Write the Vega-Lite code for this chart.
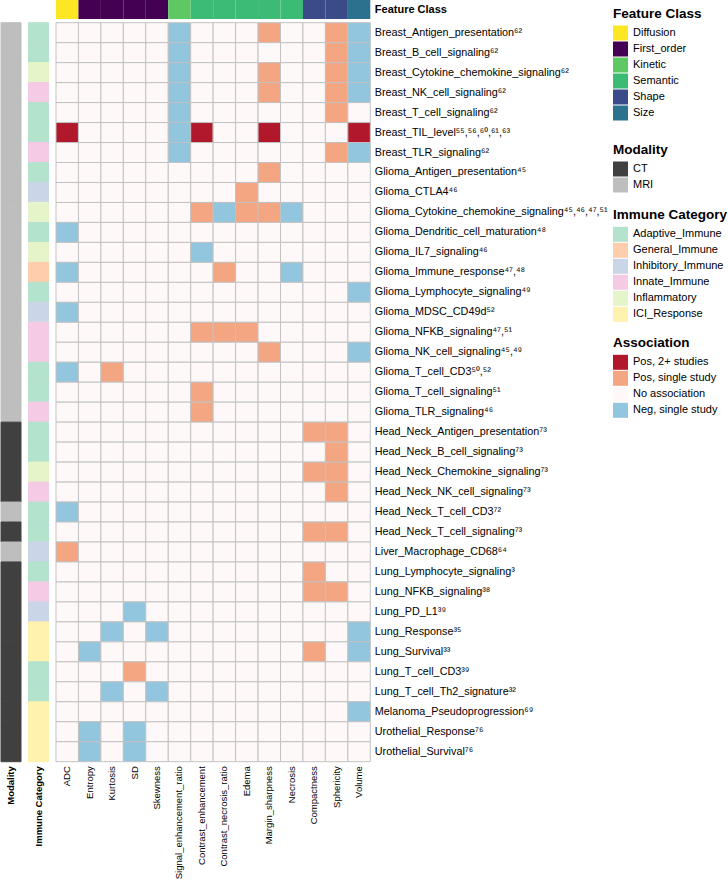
{
"$schema": "https://vega.github.io/schema/vega-lite/v6.json",
"padding": 0,
"background": "white",
"config": {
  "view": {"stroke": null},
  "font": "Liberation Sans",
  "axis": {"ticks": false, "domain": false, "grid": false, "labelColor": "#000000", "labelFont": "Liberation Sans, Noto Sans"},
  "legend": {"titleFontSize": 13.5, "titleFontWeight": "bold", "titleColor": "#000000", "titleFont": "Liberation Sans", "labelFont": "Liberation Sans", "labelFontSize": 11, "labelColor": "#000000", "symbolType": "square", "symbolSize": 225, "symbolStrokeWidth": 0, "symbolOpacity": 1, "rowPadding": 1, "titlePadding": 5, "labelOffset": 5}
},
"datasets": {
  "rows": [
    {"id":1,"label":"Breast_Antigen_presentation⁶²","modality":"MRI","immune":"Adaptive_Immune"},
    {"id":2,"label":"Breast_B_cell_signaling⁶²","modality":"MRI","immune":"Adaptive_Immune"},
    {"id":3,"label":"Breast_Cytokine_chemokine_signaling⁶²","modality":"MRI","immune":"Inflammatory"},
    {"id":4,"label":"Breast_NK_cell_signaling⁶²","modality":"MRI","immune":"Innate_Immune"},
    {"id":5,"label":"Breast_T_cell_signaling⁶²","modality":"MRI","immune":"Adaptive_Immune"},
    {"id":6,"label":"Breast_TIL_level⁵⁵,⁵⁶,⁶⁰,⁶¹,⁶³","modality":"MRI","immune":"Adaptive_Immune"},
    {"id":7,"label":"Breast_TLR_signaling⁶²","modality":"MRI","immune":"Innate_Immune"},
    {"id":8,"label":"Glioma_Antigen_presentation⁴⁵","modality":"MRI","immune":"Adaptive_Immune"},
    {"id":9,"label":"Glioma_CTLA4⁴⁶","modality":"MRI","immune":"Inhibitory_Immune"},
    {"id":10,"label":"Glioma_Cytokine_chemokine_signaling⁴⁵,⁴⁶,⁴⁷,⁵¹","modality":"MRI","immune":"Inflammatory"},
    {"id":11,"label":"Glioma_Dendritic_cell_maturation⁴⁸","modality":"MRI","immune":"Adaptive_Immune"},
    {"id":12,"label":"Glioma_IL7_signaling⁴⁶","modality":"MRI","immune":"Inflammatory"},
    {"id":13,"label":"Glioma_Immune_response⁴⁷,⁴⁸","modality":"MRI","immune":"General_Immune"},
    {"id":14,"label":"Glioma_Lymphocyte_signaling⁴⁹","modality":"MRI","immune":"Adaptive_Immune"},
    {"id":15,"label":"Glioma_MDSC_CD49d⁵²","modality":"MRI","immune":"Inhibitory_Immune"},
    {"id":16,"label":"Glioma_NFKB_signaling⁴⁷,⁵¹","modality":"MRI","immune":"Innate_Immune"},
    {"id":17,"label":"Glioma_NK_cell_signaling⁴⁵,⁴⁹","modality":"MRI","immune":"Innate_Immune"},
    {"id":18,"label":"Glioma_T_cell_CD3⁵⁰,⁵²","modality":"MRI","immune":"Adaptive_Immune"},
    {"id":19,"label":"Glioma_T_cell_signaling⁵¹","modality":"MRI","immune":"Adaptive_Immune"},
    {"id":20,"label":"Glioma_TLR_signaling⁴⁶","modality":"MRI","immune":"Innate_Immune"},
    {"id":21,"label":"Head_Neck_Antigen_presentation⁷³","modality":"CT","immune":"Adaptive_Immune"},
    {"id":22,"label":"Head_Neck_B_cell_signaling⁷³","modality":"CT","immune":"Adaptive_Immune"},
    {"id":23,"label":"Head_Neck_Chemokine_signaling⁷³","modality":"CT","immune":"Inflammatory"},
    {"id":24,"label":"Head_Neck_NK_cell_signaling⁷³","modality":"CT","immune":"Innate_Immune"},
    {"id":25,"label":"Head_Neck_T_cell_CD3⁷²","modality":"MRI","immune":"Adaptive_Immune"},
    {"id":26,"label":"Head_Neck_T_cell_signaling⁷³","modality":"CT","immune":"Adaptive_Immune"},
    {"id":27,"label":"Liver_Macrophage_CD68⁶⁴","modality":"MRI","immune":"Inhibitory_Immune"},
    {"id":28,"label":"Lung_Lymphocyte_signaling³","modality":"CT","immune":"Adaptive_Immune"},
    {"id":29,"label":"Lung_NFKB_signaling³⁸","modality":"CT","immune":"Innate_Immune"},
    {"id":30,"label":"Lung_PD_L1³⁹","modality":"CT","immune":"Inhibitory_Immune"},
    {"id":31,"label":"Lung_Response³⁵","modality":"CT","immune":"ICI_Response"},
    {"id":32,"label":"Lung_Survival³³","modality":"CT","immune":"ICI_Response"},
    {"id":33,"label":"Lung_T_cell_CD3³⁹","modality":"CT","immune":"Adaptive_Immune"},
    {"id":34,"label":"Lung_T_cell_Th2_signature³²","modality":"CT","immune":"Adaptive_Immune"},
    {"id":35,"label":"Melanoma_Pseudoprogression⁶⁹","modality":"CT","immune":"ICI_Response"},
    {"id":36,"label":"Urothelial_Response⁷⁶","modality":"CT","immune":"ICI_Response"},
    {"id":37,"label":"Urothelial_Survival⁷⁶","modality":"CT","immune":"ICI_Response"}
  ],
  "fc": [
    {"c":1,"f":"ADC","cls":"Diffusion"},
    {"c":2,"f":"Entropy","cls":"First_order"},
    {"c":3,"f":"Kurtosis","cls":"First_order"},
    {"c":4,"f":"SD","cls":"First_order"},
    {"c":5,"f":"Skewness","cls":"First_order"},
    {"c":6,"f":"Signal_enhancement_ratio","cls":"Kinetic"},
    {"c":7,"f":"Contrast_enhancement","cls":"Semantic"},
    {"c":8,"f":"Contrast_necrosis_ratio","cls":"Semantic"},
    {"c":9,"f":"Edema","cls":"Semantic"},
    {"c":10,"f":"Margin_sharpness","cls":"Semantic"},
    {"c":11,"f":"Necrosis","cls":"Semantic"},
    {"c":12,"f":"Compactness","cls":"Shape"},
    {"c":13,"f":"Sphericity","cls":"Shape"},
    {"c":14,"f":"Volume","cls":"Size"}
  ],
  "cells": [
    {"id":1,"c":1,"a":"No association"},{"id":1,"c":2,"a":"No association"},{"id":1,"c":3,"a":"No association"},{"id":1,"c":4,"a":"No association"},{"id":1,"c":5,"a":"No association"},{"id":1,"c":6,"a":"Neg, single study"},{"id":1,"c":7,"a":"No association"},{"id":1,"c":8,"a":"No association"},{"id":1,"c":9,"a":"No association"},{"id":1,"c":10,"a":"Pos, single study"},{"id":1,"c":11,"a":"No association"},{"id":1,"c":12,"a":"No association"},{"id":1,"c":13,"a":"Pos, single study"},{"id":1,"c":14,"a":"Neg, single study"},
    {"id":2,"c":1,"a":"No association"},{"id":2,"c":2,"a":"No association"},{"id":2,"c":3,"a":"No association"},{"id":2,"c":4,"a":"No association"},{"id":2,"c":5,"a":"No association"},{"id":2,"c":6,"a":"Neg, single study"},{"id":2,"c":7,"a":"No association"},{"id":2,"c":8,"a":"No association"},{"id":2,"c":9,"a":"No association"},{"id":2,"c":10,"a":"No association"},{"id":2,"c":11,"a":"No association"},{"id":2,"c":12,"a":"No association"},{"id":2,"c":13,"a":"Pos, single study"},{"id":2,"c":14,"a":"Neg, single study"},
    {"id":3,"c":1,"a":"No association"},{"id":3,"c":2,"a":"No association"},{"id":3,"c":3,"a":"No association"},{"id":3,"c":4,"a":"No association"},{"id":3,"c":5,"a":"No association"},{"id":3,"c":6,"a":"Neg, single study"},{"id":3,"c":7,"a":"No association"},{"id":3,"c":8,"a":"No association"},{"id":3,"c":9,"a":"No association"},{"id":3,"c":10,"a":"Pos, single study"},{"id":3,"c":11,"a":"No association"},{"id":3,"c":12,"a":"No association"},{"id":3,"c":13,"a":"Pos, single study"},{"id":3,"c":14,"a":"Neg, single study"},
    {"id":4,"c":1,"a":"No association"},{"id":4,"c":2,"a":"No association"},{"id":4,"c":3,"a":"No association"},{"id":4,"c":4,"a":"No association"},{"id":4,"c":5,"a":"No association"},{"id":4,"c":6,"a":"Neg, single study"},{"id":4,"c":7,"a":"No association"},{"id":4,"c":8,"a":"No association"},{"id":4,"c":9,"a":"No association"},{"id":4,"c":10,"a":"Pos, single study"},{"id":4,"c":11,"a":"No association"},{"id":4,"c":12,"a":"No association"},{"id":4,"c":13,"a":"Pos, single study"},{"id":4,"c":14,"a":"Neg, single study"},
    {"id":5,"c":1,"a":"No association"},{"id":5,"c":2,"a":"No association"},{"id":5,"c":3,"a":"No association"},{"id":5,"c":4,"a":"No association"},{"id":5,"c":5,"a":"No association"},{"id":5,"c":6,"a":"Neg, single study"},{"id":5,"c":7,"a":"No association"},{"id":5,"c":8,"a":"No association"},{"id":5,"c":9,"a":"No association"},{"id":5,"c":10,"a":"No association"},{"id":5,"c":11,"a":"No association"},{"id":5,"c":12,"a":"No association"},{"id":5,"c":13,"a":"Pos, single study"},{"id":5,"c":14,"a":"No association"},
    {"id":6,"c":1,"a":"Pos, 2+ studies"},{"id":6,"c":2,"a":"No association"},{"id":6,"c":3,"a":"No association"},{"id":6,"c":4,"a":"No association"},{"id":6,"c":5,"a":"No association"},{"id":6,"c":6,"a":"Neg, single study"},{"id":6,"c":7,"a":"Pos, 2+ studies"},{"id":6,"c":8,"a":"No association"},{"id":6,"c":9,"a":"No association"},{"id":6,"c":10,"a":"Pos, 2+ studies"},{"id":6,"c":11,"a":"No association"},{"id":6,"c":12,"a":"No association"},{"id":6,"c":13,"a":"No association"},{"id":6,"c":14,"a":"Pos, 2+ studies"},
    {"id":7,"c":1,"a":"No association"},{"id":7,"c":2,"a":"No association"},{"id":7,"c":3,"a":"No association"},{"id":7,"c":4,"a":"No association"},{"id":7,"c":5,"a":"No association"},{"id":7,"c":6,"a":"Neg, single study"},{"id":7,"c":7,"a":"No association"},{"id":7,"c":8,"a":"No association"},{"id":7,"c":9,"a":"No association"},{"id":7,"c":10,"a":"No association"},{"id":7,"c":11,"a":"No association"},{"id":7,"c":12,"a":"No association"},{"id":7,"c":13,"a":"Pos, single study"},{"id":7,"c":14,"a":"Neg, single study"},
    {"id":8,"c":1,"a":"No association"},{"id":8,"c":2,"a":"No association"},{"id":8,"c":3,"a":"No association"},{"id":8,"c":4,"a":"No association"},{"id":8,"c":5,"a":"No association"},{"id":8,"c":6,"a":"No association"},{"id":8,"c":7,"a":"No association"},{"id":8,"c":8,"a":"No association"},{"id":8,"c":9,"a":"No association"},{"id":8,"c":10,"a":"Pos, single study"},{"id":8,"c":11,"a":"No association"},{"id":8,"c":12,"a":"No association"},{"id":8,"c":13,"a":"No association"},{"id":8,"c":14,"a":"No association"},
    {"id":9,"c":1,"a":"No association"},{"id":9,"c":2,"a":"No association"},{"id":9,"c":3,"a":"No association"},{"id":9,"c":4,"a":"No association"},{"id":9,"c":5,"a":"No association"},{"id":9,"c":6,"a":"No association"},{"id":9,"c":7,"a":"No association"},{"id":9,"c":8,"a":"No association"},{"id":9,"c":9,"a":"Pos, single study"},{"id":9,"c":10,"a":"No association"},{"id":9,"c":11,"a":"No association"},{"id":9,"c":12,"a":"No association"},{"id":9,"c":13,"a":"No association"},{"id":9,"c":14,"a":"No association"},
    {"id":10,"c":1,"a":"No association"},{"id":10,"c":2,"a":"No association"},{"id":10,"c":3,"a":"No association"},{"id":10,"c":4,"a":"No association"},{"id":10,"c":5,"a":"No association"},{"id":10,"c":6,"a":"No association"},{"id":10,"c":7,"a":"Pos, single study"},{"id":10,"c":8,"a":"Neg, single study"},{"id":10,"c":9,"a":"Pos, single study"},{"id":10,"c":10,"a":"Pos, single study"},{"id":10,"c":11,"a":"Neg, single study"},{"id":10,"c":12,"a":"No association"},{"id":10,"c":13,"a":"No association"},{"id":10,"c":14,"a":"No association"},
    {"id":11,"c":1,"a":"Neg, single study"},{"id":11,"c":2,"a":"No association"},{"id":11,"c":3,"a":"No association"},{"id":11,"c":4,"a":"No association"},{"id":11,"c":5,"a":"No association"},{"id":11,"c":6,"a":"No association"},{"id":11,"c":7,"a":"No association"},{"id":11,"c":8,"a":"No association"},{"id":11,"c":9,"a":"No association"},{"id":11,"c":10,"a":"No association"},{"id":11,"c":11,"a":"No association"},{"id":11,"c":12,"a":"No association"},{"id":11,"c":13,"a":"No association"},{"id":11,"c":14,"a":"No association"},
    {"id":12,"c":1,"a":"No association"},{"id":12,"c":2,"a":"No association"},{"id":12,"c":3,"a":"No association"},{"id":12,"c":4,"a":"No association"},{"id":12,"c":5,"a":"No association"},{"id":12,"c":6,"a":"No association"},{"id":12,"c":7,"a":"Neg, single study"},{"id":12,"c":8,"a":"No association"},{"id":12,"c":9,"a":"No association"},{"id":12,"c":10,"a":"No association"},{"id":12,"c":11,"a":"No association"},{"id":12,"c":12,"a":"No association"},{"id":12,"c":13,"a":"No association"},{"id":12,"c":14,"a":"No association"},
    {"id":13,"c":1,"a":"Neg, single study"},{"id":13,"c":2,"a":"No association"},{"id":13,"c":3,"a":"No association"},{"id":13,"c":4,"a":"No association"},{"id":13,"c":5,"a":"No association"},{"id":13,"c":6,"a":"No association"},{"id":13,"c":7,"a":"No association"},{"id":13,"c":8,"a":"Pos, single study"},{"id":13,"c":9,"a":"No association"},{"id":13,"c":10,"a":"No association"},{"id":13,"c":11,"a":"Neg, single study"},{"id":13,"c":12,"a":"No association"},{"id":13,"c":13,"a":"No association"},{"id":13,"c":14,"a":"No association"},
    {"id":14,"c":1,"a":"No association"},{"id":14,"c":2,"a":"No association"},{"id":14,"c":3,"a":"No association"},{"id":14,"c":4,"a":"No association"},{"id":14,"c":5,"a":"No association"},{"id":14,"c":6,"a":"No association"},{"id":14,"c":7,"a":"No association"},{"id":14,"c":8,"a":"No association"},{"id":14,"c":9,"a":"No association"},{"id":14,"c":10,"a":"No association"},{"id":14,"c":11,"a":"No association"},{"id":14,"c":12,"a":"No association"},{"id":14,"c":13,"a":"No association"},{"id":14,"c":14,"a":"Neg, single study"},
    {"id":15,"c":1,"a":"Neg, single study"},{"id":15,"c":2,"a":"No association"},{"id":15,"c":3,"a":"No association"},{"id":15,"c":4,"a":"No association"},{"id":15,"c":5,"a":"No association"},{"id":15,"c":6,"a":"No association"},{"id":15,"c":7,"a":"No association"},{"id":15,"c":8,"a":"No association"},{"id":15,"c":9,"a":"No association"},{"id":15,"c":10,"a":"No association"},{"id":15,"c":11,"a":"No association"},{"id":15,"c":12,"a":"No association"},{"id":15,"c":13,"a":"No association"},{"id":15,"c":14,"a":"No association"},
    {"id":16,"c":1,"a":"No association"},{"id":16,"c":2,"a":"No association"},{"id":16,"c":3,"a":"No association"},{"id":16,"c":4,"a":"No association"},{"id":16,"c":5,"a":"No association"},{"id":16,"c":6,"a":"No association"},{"id":16,"c":7,"a":"Pos, single study"},{"id":16,"c":8,"a":"Pos, single study"},{"id":16,"c":9,"a":"Pos, single study"},{"id":16,"c":10,"a":"No association"},{"id":16,"c":11,"a":"No association"},{"id":16,"c":12,"a":"No association"},{"id":16,"c":13,"a":"No association"},{"id":16,"c":14,"a":"No association"},
    {"id":17,"c":1,"a":"No association"},{"id":17,"c":2,"a":"No association"},{"id":17,"c":3,"a":"No association"},{"id":17,"c":4,"a":"No association"},{"id":17,"c":5,"a":"No association"},{"id":17,"c":6,"a":"No association"},{"id":17,"c":7,"a":"No association"},{"id":17,"c":8,"a":"No association"},{"id":17,"c":9,"a":"No association"},{"id":17,"c":10,"a":"Pos, single study"},{"id":17,"c":11,"a":"No association"},{"id":17,"c":12,"a":"No association"},{"id":17,"c":13,"a":"No association"},{"id":17,"c":14,"a":"Neg, single study"},
    {"id":18,"c":1,"a":"Neg, single study"},{"id":18,"c":2,"a":"No association"},{"id":18,"c":3,"a":"Pos, single study"},{"id":18,"c":4,"a":"No association"},{"id":18,"c":5,"a":"No association"},{"id":18,"c":6,"a":"No association"},{"id":18,"c":7,"a":"No association"},{"id":18,"c":8,"a":"No association"},{"id":18,"c":9,"a":"No association"},{"id":18,"c":10,"a":"No association"},{"id":18,"c":11,"a":"No association"},{"id":18,"c":12,"a":"No association"},{"id":18,"c":13,"a":"No association"},{"id":18,"c":14,"a":"No association"},
    {"id":19,"c":1,"a":"No association"},{"id":19,"c":2,"a":"No association"},{"id":19,"c":3,"a":"No association"},{"id":19,"c":4,"a":"No association"},{"id":19,"c":5,"a":"No association"},{"id":19,"c":6,"a":"No association"},{"id":19,"c":7,"a":"Pos, single study"},{"id":19,"c":8,"a":"No association"},{"id":19,"c":9,"a":"No association"},{"id":19,"c":10,"a":"No association"},{"id":19,"c":11,"a":"No association"},{"id":19,"c":12,"a":"No association"},{"id":19,"c":13,"a":"No association"},{"id":19,"c":14,"a":"No association"},
    {"id":20,"c":1,"a":"No association"},{"id":20,"c":2,"a":"No association"},{"id":20,"c":3,"a":"No association"},{"id":20,"c":4,"a":"No association"},{"id":20,"c":5,"a":"No association"},{"id":20,"c":6,"a":"No association"},{"id":20,"c":7,"a":"Pos, single study"},{"id":20,"c":8,"a":"No association"},{"id":20,"c":9,"a":"No association"},{"id":20,"c":10,"a":"No association"},{"id":20,"c":11,"a":"No association"},{"id":20,"c":12,"a":"No association"},{"id":20,"c":13,"a":"No association"},{"id":20,"c":14,"a":"No association"},
    {"id":21,"c":1,"a":"No association"},{"id":21,"c":2,"a":"No association"},{"id":21,"c":3,"a":"No association"},{"id":21,"c":4,"a":"No association"},{"id":21,"c":5,"a":"No association"},{"id":21,"c":6,"a":"No association"},{"id":21,"c":7,"a":"No association"},{"id":21,"c":8,"a":"No association"},{"id":21,"c":9,"a":"No association"},{"id":21,"c":10,"a":"No association"},{"id":21,"c":11,"a":"No association"},{"id":21,"c":12,"a":"Pos, single study"},{"id":21,"c":13,"a":"Pos, single study"},{"id":21,"c":14,"a":"No association"},
    {"id":22,"c":1,"a":"No association"},{"id":22,"c":2,"a":"No association"},{"id":22,"c":3,"a":"No association"},{"id":22,"c":4,"a":"No association"},{"id":22,"c":5,"a":"No association"},{"id":22,"c":6,"a":"No association"},{"id":22,"c":7,"a":"No association"},{"id":22,"c":8,"a":"No association"},{"id":22,"c":9,"a":"No association"},{"id":22,"c":10,"a":"No association"},{"id":22,"c":11,"a":"No association"},{"id":22,"c":12,"a":"No association"},{"id":22,"c":13,"a":"Pos, single study"},{"id":22,"c":14,"a":"No association"},
    {"id":23,"c":1,"a":"No association"},{"id":23,"c":2,"a":"No association"},{"id":23,"c":3,"a":"No association"},{"id":23,"c":4,"a":"No association"},{"id":23,"c":5,"a":"No association"},{"id":23,"c":6,"a":"No association"},{"id":23,"c":7,"a":"No association"},{"id":23,"c":8,"a":"No association"},{"id":23,"c":9,"a":"No association"},{"id":23,"c":10,"a":"No association"},{"id":23,"c":11,"a":"No association"},{"id":23,"c":12,"a":"Pos, single study"},{"id":23,"c":13,"a":"Pos, single study"},{"id":23,"c":14,"a":"No association"},
    {"id":24,"c":1,"a":"No association"},{"id":24,"c":2,"a":"No association"},{"id":24,"c":3,"a":"No association"},{"id":24,"c":4,"a":"No association"},{"id":24,"c":5,"a":"No association"},{"id":24,"c":6,"a":"No association"},{"id":24,"c":7,"a":"No association"},{"id":24,"c":8,"a":"No association"},{"id":24,"c":9,"a":"No association"},{"id":24,"c":10,"a":"No association"},{"id":24,"c":11,"a":"No association"},{"id":24,"c":12,"a":"No association"},{"id":24,"c":13,"a":"Pos, single study"},{"id":24,"c":14,"a":"No association"},
    {"id":25,"c":1,"a":"Neg, single study"},{"id":25,"c":2,"a":"No association"},{"id":25,"c":3,"a":"No association"},{"id":25,"c":4,"a":"No association"},{"id":25,"c":5,"a":"No association"},{"id":25,"c":6,"a":"No association"},{"id":25,"c":7,"a":"No association"},{"id":25,"c":8,"a":"No association"},{"id":25,"c":9,"a":"No association"},{"id":25,"c":10,"a":"No association"},{"id":25,"c":11,"a":"No association"},{"id":25,"c":12,"a":"No association"},{"id":25,"c":13,"a":"No association"},{"id":25,"c":14,"a":"No association"},
    {"id":26,"c":1,"a":"No association"},{"id":26,"c":2,"a":"No association"},{"id":26,"c":3,"a":"No association"},{"id":26,"c":4,"a":"No association"},{"id":26,"c":5,"a":"No association"},{"id":26,"c":6,"a":"No association"},{"id":26,"c":7,"a":"No association"},{"id":26,"c":8,"a":"No association"},{"id":26,"c":9,"a":"No association"},{"id":26,"c":10,"a":"No association"},{"id":26,"c":11,"a":"No association"},{"id":26,"c":12,"a":"Pos, single study"},{"id":26,"c":13,"a":"Pos, single study"},{"id":26,"c":14,"a":"No association"},
    {"id":27,"c":1,"a":"Pos, single study"},{"id":27,"c":2,"a":"No association"},{"id":27,"c":3,"a":"No association"},{"id":27,"c":4,"a":"No association"},{"id":27,"c":5,"a":"No association"},{"id":27,"c":6,"a":"No association"},{"id":27,"c":7,"a":"No association"},{"id":27,"c":8,"a":"No association"},{"id":27,"c":9,"a":"No association"},{"id":27,"c":10,"a":"No association"},{"id":27,"c":11,"a":"No association"},{"id":27,"c":12,"a":"No association"},{"id":27,"c":13,"a":"No association"},{"id":27,"c":14,"a":"No association"},
    {"id":28,"c":1,"a":"No association"},{"id":28,"c":2,"a":"No association"},{"id":28,"c":3,"a":"No association"},{"id":28,"c":4,"a":"No association"},{"id":28,"c":5,"a":"No association"},{"id":28,"c":6,"a":"No association"},{"id":28,"c":7,"a":"No association"},{"id":28,"c":8,"a":"No association"},{"id":28,"c":9,"a":"No association"},{"id":28,"c":10,"a":"No association"},{"id":28,"c":11,"a":"No association"},{"id":28,"c":12,"a":"Pos, single study"},{"id":28,"c":13,"a":"No association"},{"id":28,"c":14,"a":"No association"},
    {"id":29,"c":1,"a":"No association"},{"id":29,"c":2,"a":"No association"},{"id":29,"c":3,"a":"No association"},{"id":29,"c":4,"a":"No association"},{"id":29,"c":5,"a":"No association"},{"id":29,"c":6,"a":"No association"},{"id":29,"c":7,"a":"No association"},{"id":29,"c":8,"a":"No association"},{"id":29,"c":9,"a":"No association"},{"id":29,"c":10,"a":"No association"},{"id":29,"c":11,"a":"No association"},{"id":29,"c":12,"a":"Pos, single study"},{"id":29,"c":13,"a":"Pos, single study"},{"id":29,"c":14,"a":"No association"},
    {"id":30,"c":1,"a":"No association"},{"id":30,"c":2,"a":"No association"},{"id":30,"c":3,"a":"No association"},{"id":30,"c":4,"a":"Neg, single study"},{"id":30,"c":5,"a":"No association"},{"id":30,"c":6,"a":"No association"},{"id":30,"c":7,"a":"No association"},{"id":30,"c":8,"a":"No association"},{"id":30,"c":9,"a":"No association"},{"id":30,"c":10,"a":"No association"},{"id":30,"c":11,"a":"No association"},{"id":30,"c":12,"a":"No association"},{"id":30,"c":13,"a":"No association"},{"id":30,"c":14,"a":"No association"},
    {"id":31,"c":1,"a":"No association"},{"id":31,"c":2,"a":"No association"},{"id":31,"c":3,"a":"Neg, single study"},{"id":31,"c":4,"a":"No association"},{"id":31,"c":5,"a":"Neg, single study"},{"id":31,"c":6,"a":"No association"},{"id":31,"c":7,"a":"No association"},{"id":31,"c":8,"a":"No association"},{"id":31,"c":9,"a":"No association"},{"id":31,"c":10,"a":"No association"},{"id":31,"c":11,"a":"No association"},{"id":31,"c":12,"a":"No association"},{"id":31,"c":13,"a":"No association"},{"id":31,"c":14,"a":"Neg, single study"},
    {"id":32,"c":1,"a":"No association"},{"id":32,"c":2,"a":"Neg, single study"},{"id":32,"c":3,"a":"No association"},{"id":32,"c":4,"a":"No association"},{"id":32,"c":5,"a":"No association"},{"id":32,"c":6,"a":"No association"},{"id":32,"c":7,"a":"No association"},{"id":32,"c":8,"a":"No association"},{"id":32,"c":9,"a":"No association"},{"id":32,"c":10,"a":"No association"},{"id":32,"c":11,"a":"No association"},{"id":32,"c":12,"a":"Pos, single study"},{"id":32,"c":13,"a":"No association"},{"id":32,"c":14,"a":"Neg, single study"},
    {"id":33,"c":1,"a":"No association"},{"id":33,"c":2,"a":"No association"},{"id":33,"c":3,"a":"No association"},{"id":33,"c":4,"a":"Pos, single study"},{"id":33,"c":5,"a":"No association"},{"id":33,"c":6,"a":"No association"},{"id":33,"c":7,"a":"No association"},{"id":33,"c":8,"a":"No association"},{"id":33,"c":9,"a":"No association"},{"id":33,"c":10,"a":"No association"},{"id":33,"c":11,"a":"No association"},{"id":33,"c":12,"a":"No association"},{"id":33,"c":13,"a":"No association"},{"id":33,"c":14,"a":"No association"},
    {"id":34,"c":1,"a":"No association"},{"id":34,"c":2,"a":"No association"},{"id":34,"c":3,"a":"Neg, single study"},{"id":34,"c":4,"a":"No association"},{"id":34,"c":5,"a":"Neg, single study"},{"id":34,"c":6,"a":"No association"},{"id":34,"c":7,"a":"No association"},{"id":34,"c":8,"a":"No association"},{"id":34,"c":9,"a":"No association"},{"id":34,"c":10,"a":"No association"},{"id":34,"c":11,"a":"No association"},{"id":34,"c":12,"a":"No association"},{"id":34,"c":13,"a":"No association"},{"id":34,"c":14,"a":"No association"},
    {"id":35,"c":1,"a":"No association"},{"id":35,"c":2,"a":"No association"},{"id":35,"c":3,"a":"No association"},{"id":35,"c":4,"a":"No association"},{"id":35,"c":5,"a":"No association"},{"id":35,"c":6,"a":"No association"},{"id":35,"c":7,"a":"No association"},{"id":35,"c":8,"a":"No association"},{"id":35,"c":9,"a":"No association"},{"id":35,"c":10,"a":"No association"},{"id":35,"c":11,"a":"No association"},{"id":35,"c":12,"a":"No association"},{"id":35,"c":13,"a":"No association"},{"id":35,"c":14,"a":"Neg, single study"},
    {"id":36,"c":1,"a":"No association"},{"id":36,"c":2,"a":"Neg, single study"},{"id":36,"c":3,"a":"No association"},{"id":36,"c":4,"a":"Neg, single study"},{"id":36,"c":5,"a":"No association"},{"id":36,"c":6,"a":"No association"},{"id":36,"c":7,"a":"No association"},{"id":36,"c":8,"a":"No association"},{"id":36,"c":9,"a":"No association"},{"id":36,"c":10,"a":"No association"},{"id":36,"c":11,"a":"No association"},{"id":36,"c":12,"a":"No association"},{"id":36,"c":13,"a":"No association"},{"id":36,"c":14,"a":"No association"},
    {"id":37,"c":1,"a":"No association"},{"id":37,"c":2,"a":"Neg, single study"},{"id":37,"c":3,"a":"No association"},{"id":37,"c":4,"a":"Neg, single study"},{"id":37,"c":5,"a":"No association"},{"id":37,"c":6,"a":"No association"},{"id":37,"c":7,"a":"No association"},{"id":37,"c":8,"a":"No association"},{"id":37,"c":9,"a":"No association"},{"id":37,"c":10,"a":"No association"},{"id":37,"c":11,"a":"No association"},{"id":37,"c":12,"a":"No association"},{"id":37,"c":13,"a":"No association"},{"id":37,"c":14,"a":"No association"}
  ]
},
"spacing": 7.5,
"bounds": "flush",
"resolve": {"scale": {"color": "independent", "stroke": "independent"}, "legend": {"color": "independent", "stroke": "independent"}},
"hconcat": [
  {
    "width": 20, "height": 761.7,
    "data": {"name": "rows"},
    "mark": {"type": "rect", "strokeWidth": 1},
    "encoding": {
      "x": {"datum": "Modality", "type": "nominal", "axis": {"orient": "bottom", "title": null, "labelAngle": -90, "labelFontWeight": "bold", "labelFontSize": 9.5, "labelPadding": 4, "labelLimit": 0}},
      "y": {"field": "label", "type": "nominal", "sort": {"field": "id", "op": "min"}, "scale": {"paddingInner": 0, "paddingOuter": 0.568, "align": 1}, "axis": null},
      "color": {"field": "modality", "type": "nominal",
        "scale": {"domain": ["CT", "MRI"], "range": ["#404040", "#BEBEBE"]},
        "legend": {"title": "Modality", "orient": "none", "legendX": 612, "legendY": 143}},
      "stroke": {"field": "modality", "type": "nominal", "scale": {"domain": ["CT", "MRI"], "range": ["#404040", "#BEBEBE"]}, "legend": null}
    }
  },
  {
    "width": 20, "height": 761.7,
    "data": {"name": "rows"},
    "mark": {"type": "rect", "strokeWidth": 1},
    "encoding": {
      "x": {"datum": "Immune Category", "type": "nominal", "axis": {"orient": "bottom", "title": null, "labelAngle": -90, "labelFontWeight": "bold", "labelFontSize": 9.5, "labelPadding": 4, "labelLimit": 0}},
      "y": {"field": "label", "type": "nominal", "sort": {"field": "id", "op": "min"}, "scale": {"paddingInner": 0, "paddingOuter": 0.568, "align": 1}, "axis": null},
      "color": {"field": "immune", "type": "nominal",
        "scale": {"domain": ["Adaptive_Immune", "General_Immune", "Inhibitory_Immune", "Innate_Immune", "Inflammatory", "ICI_Response"], "range": ["#B3E2CD", "#FDCDAC", "#CBD5E8", "#F4CAE4", "#E6F5C9", "#FFF2AE"]},
        "legend": {"title": "Immune Category", "orient": "none", "legendX": 584.5, "legendY": 208.3}},
      "stroke": {"field": "immune", "type": "nominal", "scale": {"domain": ["Adaptive_Immune", "General_Immune", "Inhibitory_Immune", "Innate_Immune", "Inflammatory", "ICI_Response"], "range": ["#B3E2CD", "#FDCDAC", "#CBD5E8", "#F4CAE4", "#E6F5C9", "#FFF2AE"]}, "legend": null}
    }
  },
  {
    "spacing": 3.7,
    "bounds": "flush",
    "resolve": {"scale": {"color": "independent"}, "legend": {"color": "independent"}},
    "vconcat": [
      {
        "width": 314.3, "height": 19,
        "data": {"name": "fc"},
        "mark": {"type": "rect"},
        "encoding": {
          "x": {"field": "f", "type": "nominal", "sort": {"field": "c", "op": "min"}, "axis": null},
          "y": {"datum": "Feature Class", "type": "nominal", "axis": {"orient": "right", "title": null, "labelFontWeight": "bold", "labelFontSize": 11, "labelPadding": 4, "labelLimit": 0}},
          "color": {"field": "cls", "type": "nominal",
            "scale": {"domain": ["Diffusion", "First_order", "Kinetic", "Semantic", "Shape", "Size"], "range": ["#FDE725", "#440154", "#5EC962", "#3CBB75", "#3B4B8A", "#2C728E"]},
            "legend": {"title": "Feature Class", "orient": "none", "legendX": 557, "legendY": 7}}
        }
      },
      {
        "width": 314.3, "height": 739,
        "data": {"name": "cells"},
        "transform": [
          {"lookup": "id", "from": {"data": {"name": "rows"}, "key": "id", "fields": ["label"]}},
          {"lookup": "c", "from": {"data": {"name": "fc"}, "key": "c", "fields": ["f"]}}
        ],
        "mark": {"type": "rect", "stroke": "#C2C2C2", "strokeWidth": 1},
        "encoding": {
          "x": {"field": "f", "type": "nominal", "sort": {"field": "c", "op": "min"}, "axis": {"orient": "bottom", "title": null, "labelAngle": -90, "labelFontSize": 9.5, "labelPadding": 4, "labelLimit": 0}},
          "y": {"field": "label", "type": "nominal", "sort": {"field": "id", "op": "min"}, "axis": {"orient": "right", "title": null, "labelFontSize": 10.8, "labelPadding": 4, "labelLimit": 0}},
          "color": {"field": "a", "type": "nominal",
            "scale": {"domain": ["Pos, 2+ studies", "Pos, single study", "No association", "Neg, single study"], "range": ["#B2182B", "#F4A582", "#FEF9F8", "#92C5DE"]},
            "legend": {"title": "Association", "orient": "none", "legendX": 557, "legendY": 313.6}}
        }
      }
    ]
  }
]
}
